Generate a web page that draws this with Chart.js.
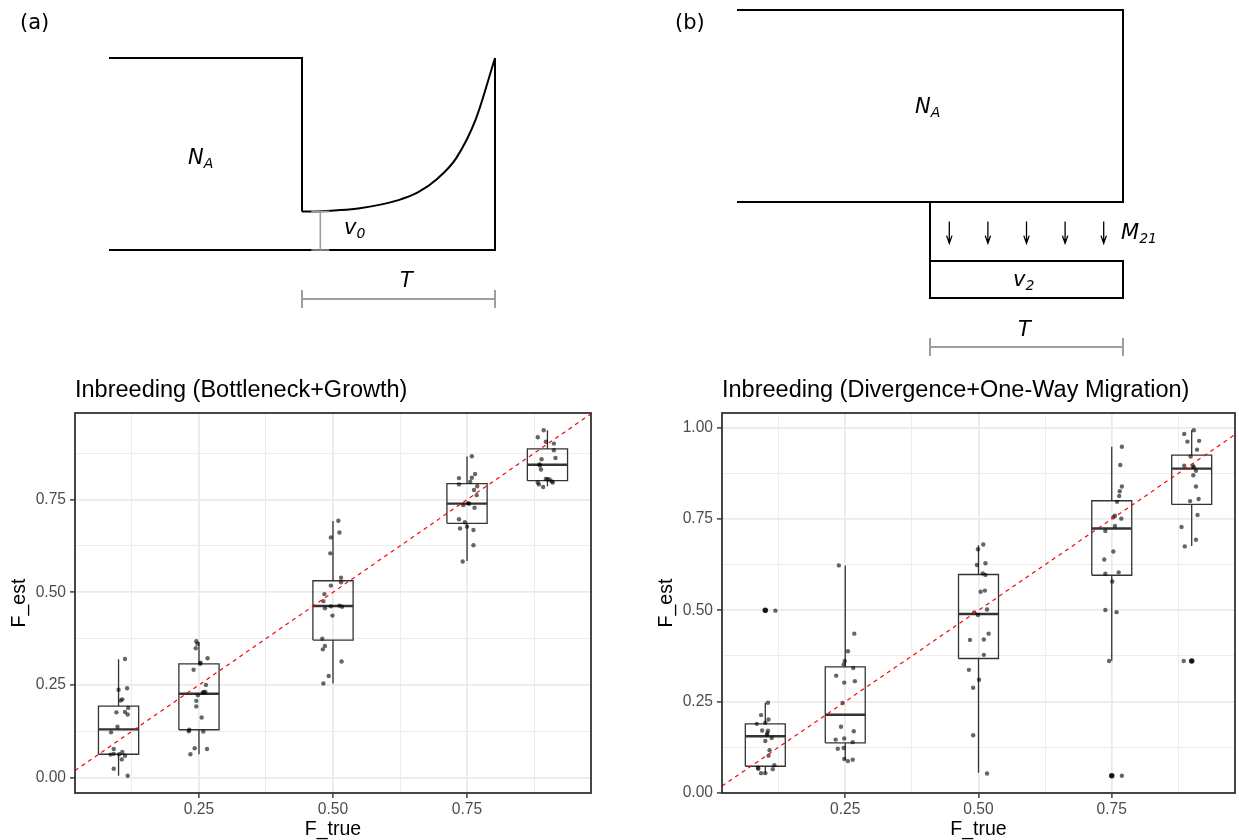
<!DOCTYPE html>
<html>
<head>
<meta charset="utf-8">
<title>Inbreeding estimates</title>
<script src="https://cdn.jsdelivr.net/npm/chart.js@4.4.1/dist/chart.umd.min.js"></script>
<style>
  html, body { margin: 0; padding: 0; background: #ffffff; }
  body { position: relative; width: 1239px; height: 840px; overflow: hidden; }
  canvas { position: absolute; }
  .lbl { position: absolute; font-family: "DejaVu Sans", sans-serif; font-size: 21px; line-height: 21px; color: #000; white-space: nowrap; }
  .lbl i, .lbl sub { font-style: oblique; }
  .lbl sub { font-size: 14px; line-height: 0; vertical-align: -4px; }
</style>
</head>
<body>
<canvas id="diagA" width="620" height="370" style="left:0;top:0"></canvas>
<canvas id="diagB" width="599" height="370" style="left:640px;top:0"></canvas>
<canvas id="boxA" width="620" height="470" style="left:0;top:370px"></canvas>
<canvas id="boxB" width="599" height="470" style="left:640px;top:370px"></canvas>

<div class="lbl" style="left:20px;top:11.7px">(a)</div>
<div class="lbl" style="left:188px;top:147.2px"><i>N</i><sub>A</sub></div>
<div class="lbl" style="left:344px;top:217.2px"><i>v</i><sub>0</sub></div>
<div class="lbl" style="left:400px;top:270.2px"><i>T</i></div>
<div class="lbl" style="left:675px;top:11.5px">(b)</div>
<div class="lbl" style="left:915px;top:95.5px"><i>N</i><sub>A</sub></div>
<div class="lbl" style="left:1121px;top:222.2px"><i>M</i><sub>21</sub></div>
<div class="lbl" style="left:1013px;top:268.9px"><i>v</i><sub>2</sub></div>
<div class="lbl" style="left:1018px;top:318.9px"><i>T</i></div>

<script>
// ---------- boxplot data ----------
const fTrue = [0.1, 0.25, 0.5, 0.75, 0.9];
const yTickVals = [0, 0.25, 0.5, 0.75, 1];
const yTickLabels = ['0.00', '0.25', '0.50', '0.75', '1.00'];
const xTickVals = [0.25, 0.5, 0.75];
const xTickLabels = ['0.25', '0.50', '0.75'];
const minorVals = [0.125, 0.375, 0.625, 0.875];

// (a) Bottleneck+Growth
const bgLow  = [0.005, 0.063, 0.254, 0.584, 0.786];
const bgQ1   = [0.063, 0.129, 0.371, 0.686, 0.801];
const bgMed  = [0.130, 0.226, 0.463, 0.739, 0.844];
const bgQ3   = [0.193, 0.307, 0.531, 0.793, 0.887];
const bgHigh = [0.319, 0.366, 0.692, 0.866, 0.937];
const bgEst = [
  [0.320,0.237,0.241,0.211,0.208,0.188,0.176,0.177,0.170,0.137,0.122,0.077,0.069,0.062,0.064,0.063,0.059,0.049,0.024,0.005],
  [0.368,0.361,0.349,0.310,0.307,0.322,0.291,0.250,0.231,0.231,0.229,0.222,0.207,0.192,0.162,0.129,0.125,0.124,0.079,0.077,0.063],
  [0.693,0.661,0.648,0.605,0.539,0.527,0.518,0.495,0.476,0.457,0.462,0.464,0.461,0.437,0.375,0.355,0.346,0.313,0.274,0.254],
  [0.867,0.819,0.808,0.809,0.798,0.791,0.786,0.776,0.762,0.739,0.740,0.735,0.728,0.697,0.689,0.677,0.672,0.668,0.627,0.583],
  [0.937,0.918,0.906,0.901,0.883,0.862,0.859,0.845,0.842,0.831,0.806,0.805,0.804,0.799,0.796,0.796,0.791,0.784]
];
const bgJitter = [
  [0.012,0,0.016,0.007,0.004,0.018,-0.004,0.012,0.017,-0.002,-0.014,-0.009,0.007,-0.015,-0.009,0.001,0.012,0.006,-0.009,0.017],
  [-0.005,-0.003,-0.006,0.003,0.002,0.016,-0.010,0.013,0.009,0.012,0.007,-0.002,-0.005,-0.005,0.005,-0.018,-0.019,0.008,-0.008,0.015,-0.016],
  [0.010,0.012,-0.004,-0.005,0.015,0.015,-0.004,-0.016,-0.018,-0.015,-0.004,0.012,0.017,-0.001,-0.020,-0.015,-0.019,0.016,-0.008,-0.018],
  [0.009,0.015,-0.015,0.009,0.006,-0.015,0.019,0.013,0.018,0.004,0.002,-0.007,0.014,-0.015,-0.004,0,-0.013,0.012,0.012,-0.008],
  [-0.007,-0.018,-0.003,0.012,0.012,0.015,-0.011,-0.015,-0.014,-0.012,-0.003,0,0.004,0.008,0.010,-0.018,-0.016,-0.008]
];

// (b) Divergence+One-Way Migration
const dmLow  = [0.054, 0.090, 0.055, 0.362, 0.676];
const dmQ1   = [0.073, 0.137, 0.368, 0.596, 0.790];
const dmMed  = [0.155, 0.214, 0.490, 0.724, 0.888];
const dmQ3   = [0.189, 0.345, 0.598, 0.800, 0.925];
const dmHigh = [0.247, 0.623, 0.678, 0.948, 0.993];
const dmOutX = [0.1, 0.75, 0.9];
const dmOutY = [0.5, 0.047, 0.361];
const dmEst = [
  [0.500,0.499,0.247,0.213,0.201,0.189,0.192,0.171,0.170,0.164,0.159,0.150,0.142,0.117,0.102,0.076,0.065,0.069,0.066,0.054,0.054],
  [0.623,0.436,0.388,0.361,0.352,0.342,0.321,0.302,0.306,0.246,0.181,0.169,0.146,0.149,0.139,0.121,0.123,0.093,0.087,0.091],
  [0.680,0.667,0.629,0.624,0.601,0.597,0.551,0.554,0.502,0.494,0.487,0.436,0.419,0.420,0.378,0.337,0.310,0.288,0.158,0.053],
  [0.948,0.898,0.839,0.826,0.813,0.797,0.759,0.755,0.751,0.731,0.717,0.661,0.639,0.600,0.604,0.579,0.501,0.495,0.361,0.047,0.047],
  [0.993,0.983,0.964,0.962,0.940,0.921,0.896,0.896,0.892,0.882,0.870,0.839,0.805,0.799,0.761,0.728,0.693,0.675,0.361,0.361]
];
const dmJitter = [
  [0,0.019,0.005,-0.008,0.006,-0.016,0,-0.006,0.005,0.004,0.003,0.012,0,0.008,0.006,0.017,0.014,-0.014,-0.013,-0.008,0],
  [-0.012,0.017,0.005,-0.001,-0.003,0.015,-0.017,-0.002,0.018,-0.005,-0.008,0.016,-0.018,-0.002,0.014,-0.014,-0.003,-0.002,0.005,0.014],
  [0.009,-0.001,0.013,-0.003,0.008,0.013,0.004,0.012,0.016,-0.008,-0.001,0.019,-0.016,0.010,0.010,-0.018,0.001,-0.010,-0.010,0.016],
  [0.019,0.016,0.019,0.015,0.014,0.010,0.006,0.003,0.018,0.006,-0.012,0.003,-0.014,-0.012,0.013,0.001,-0.012,0.009,-0.005,0,0.019],
  [0.004,-0.014,0.014,-0.008,0.010,-0.002,-0.014,0.002,0.004,0.008,0.003,0.008,0.013,-0.003,0.011,-0.019,0.008,-0.013,-0.015,0]
];

// ---------- schematic data ----------
// (a) bottleneck then growth; time in units of T, size relative to N_A
const ancStart = -1;
const v0 = 0.2;
const growT = [0, 0.1, 0.2, 0.3, 0.4, 0.5, 0.6, 0.7, 0.8, 0.9, 1];
const growN = [0.2, 0.202, 0.208, 0.218, 0.235, 0.26, 0.3, 0.37, 0.48, 0.68, 1];
const v0MarkT = 0.095;
// (b) divergence with one-way migration
const v2Top = -0.307, v2Bottom = -0.5;
const migT = [0.1, 0.3, 0.5, 0.7, 0.9];
const migFrom = -0.102, migTo = -0.215;

const SANS = '"Liberation Sans", Arial, Helvetica, sans-serif';
const BOX_HALF = 0.0375;
Chart.defaults.font.family = SANS;

function padRange(lo, hi) {
  const d = (hi - lo) * 0.05;
  return [lo - d, hi + d];
}
function isMajor(v, majors) {
  return majors.some(m => Math.abs(m - v) < 1e-9);
}

function boxSegments(q1, q3, low, high) {
  const pts = [];
  fTrue.forEach((c, i) => {
    const l = c - BOX_HALF, r = c + BOX_HALF;
    pts.push({x: l, y: q1[i]}, {x: r, y: q1[i]}, {x: r, y: q3[i]}, {x: l, y: q3[i]}, {x: l, y: q1[i]}, {x: c, y: null});
    pts.push({x: c, y: q3[i]}, {x: c, y: high[i]}, {x: c, y: null});
    pts.push({x: c, y: q1[i]}, {x: c, y: low[i]}, {x: c, y: null});
  });
  return pts;
}
function medianSegments(med) {
  const pts = [];
  fTrue.forEach((c, i) => {
    pts.push({x: c - BOX_HALF, y: med[i]}, {x: c + BOX_HALF, y: med[i]}, {x: c, y: null});
  });
  return pts;
}

function makeAxis(horiz, range, majors, labels, size, titleText, titlePad) {
  return {
    type: 'linear',
    position: horiz ? 'bottom' : 'left',
    bounds: 'data',
    min: range[0],
    max: range[1],
    afterBuildTicks: s => {
      s.ticks = majors.concat(minorVals)
        .filter(v => v >= range[0] && v <= range[1])
        .sort((a, b) => a - b)
        .map(v => ({value: v}));
    },
    afterFit: s => { if (horiz) s.height = size; else s.width = size; },
    grid: {
      color: '#EBEBEB',
      lineWidth: c => (c.tick && isMajor(c.tick.value, majors)) ? 1.8 : 0.9,
      tickColor: c => (c.tick && isMajor(c.tick.value, majors)) ? '#333333' : 'rgba(0,0,0,0)',
      tickWidth: 1.4,
      tickLength: 5,
      drawTicks: true
    },
    border: {display: false},
    ticks: {
      autoSkip: false,
      maxRotation: 0,
      minRotation: 0,
      padding: horiz ? 2 : 4,
      color: '#4D4D4D',
      font: {family: SANS, size: 15.6, lineHeight: 1.2},
      callback: v => {
        const i = majors.findIndex(m => Math.abs(m - v) < 1e-9);
        return i >= 0 ? labels[i] : '';
      }
    },
    title: {
      display: true,
      text: titleText,
      color: '#000000',
      font: {family: SANS, size: 19.5, lineHeight: 1},
      padding: horiz ? {top: 0, bottom: 1} : {top: titlePad, bottom: 0}
    }
  };
}

const panelBorder = {
  id: 'panelBorder',
  afterDatasetsDraw(chart) {
    const {ctx, chartArea: a} = chart;
    ctx.save();
    ctx.strokeStyle = '#333333';
    ctx.lineWidth = 1.8;
    ctx.strokeRect(a.left, a.top, a.right - a.left, a.bottom - a.top);
    ctx.restore();
  }
};

function boxChart(id, title, p, yAxisW, rightPad, yTitlePad) {
  const all = [].concat(...p.est, p.low, p.high, p.outY || []);
  const yr = padRange(Math.min(...all), Math.max(...all));
  const xr = padRange(fTrue[0] - BOX_HALF, fTrue[fTrue.length - 1] + BOX_HALF);

  const pts = [];
  fTrue.forEach((c, g) => p.est[g].forEach((v, k) => pts.push({x: c + p.dx[g][k], y: v})));

  const datasets = [
    {data: [{x: xr[0], y: xr[0]}, {x: xr[1], y: xr[1]}], showLine: true,
     borderColor: '#FF0000', borderWidth: 1.2, borderDash: [4, 4], pointRadius: 0},
    {data: pts, pointRadius: 2.2, backgroundColor: 'rgba(0,0,0,0.6)', borderWidth: 0}
  ];
  if (p.outX) {
    datasets.push({data: p.outX.map((x, i) => ({x: x, y: p.outY[i]})),
      pointRadius: 2.8, backgroundColor: '#333333', borderWidth: 0});
  }
  datasets.push({data: medianSegments(p.med), showLine: true, borderColor: '#333333',
    borderWidth: 2.4, pointRadius: 0, spanGaps: false});
  datasets.push({data: boxSegments(p.q1, p.q3, p.low, p.high), showLine: true, borderColor: '#333333',
    borderWidth: 1.3, pointRadius: 0, spanGaps: false, borderJoinStyle: 'miter'});

  new Chart(document.getElementById(id), {
    type: 'scatter',
    data: {datasets: datasets},
    options: {
      responsive: false,
      animation: false,
      events: [],
      layout: {padding: {left: 0, right: rightPad, top: 0, bottom: 0}},
      scales: {
        x: makeAxis(true, xr, xTickVals, xTickLabels, 47, 'F_true'),
        y: makeAxis(false, yr, yTickVals, yTickLabels, yAxisW, 'F_est', yTitlePad)
      },
      plugins: {
        legend: {display: false},
        tooltip: {enabled: false},
        title: {
          display: true, text: title, align: 'start', fullSize: false, color: '#000000',
          font: {family: SANS, size: 23.5, weight: 'normal', lineHeight: 1.2},
          padding: {top: 6.8, bottom: 8.0}
        }
      }
    },
    plugins: [panelBorder]
  });
}

boxChart('boxA', 'Inbreeding (Bottleneck+Growth)',
  {low: bgLow, q1: bgQ1, med: bgMed, q3: bgQ3, high: bgHigh, est: bgEst, dx: bgJitter},
  75, 29, 10.1);
boxChart('boxB', 'Inbreeding (Divergence+One-Way Migration)',
  {low: dmLow, q1: dmQ1, med: dmMed, q3: dmQ3, high: dmHigh, est: dmEst, dx: dmJitter, outX: dmOutX, outY: dmOutY},
  82, 1, 17.1);

// ---------- schematics ----------
const UX = 193, UY = 192;   // pixels per unit of time / size
const GRAY = '#9E9E9E';

function line(points, color, width, extra) {
  return Object.assign({data: points, showLine: true, borderColor: color, borderWidth: width,
    pointRadius: 0, spanGaps: false, borderJoinStyle: 'miter', borderCapStyle: 'butt'}, extra || {});
}
function tBar(y) {
  return [{x: 0, y: y}, {x: 1, y: y}, {x: 1, y: null},
          {x: 0, y: y - 0.047}, {x: 0, y: y + 0.047}, {x: 0, y: null},
          {x: 1, y: y - 0.047}, {x: 1, y: y + 0.047}];
}
function diagram(id, w, h, ox, oy, datasets) {
  new Chart(document.getElementById(id), {
    type: 'scatter',
    data: {datasets: datasets},
    options: {
      responsive: false,
      animation: false,
      events: [],
      layout: {padding: 0},
      scales: {
        x: {type: 'linear', display: false, min: -ox / UX, max: (w - ox) / UX},
        y: {type: 'linear', display: false, min: -(h - oy) / UY, max: oy / UY}
      },
      plugins: {legend: {display: false}, tooltip: {enabled: false}}
    }
  });
}

const v0Mark = [
  {x: v0MarkT, y: 0}, {x: v0MarkT, y: v0}, {x: v0MarkT, y: null},
  {x: v0MarkT - 0.047, y: 0}, {x: v0MarkT + 0.047, y: 0}, {x: v0MarkT, y: null},
  {x: v0MarkT - 0.047, y: v0}, {x: v0MarkT + 0.047, y: v0}
];
diagram('diagA', 620, 370, 302, 250, [
  line(v0Mark, GRAY, 1.6),
  line(tBar(-0.255), GRAY, 2),
  line([{x: ancStart, y: 1}, {x: 0, y: 1}, {x: 0, y: v0}], '#000000', 2),
  line(growT.map((t, i) => ({x: t, y: growN[i]})), '#000000', 2, {cubicInterpolationMode: 'monotone'}),
  line([{x: 1, y: 1}, {x: 1, y: 0}, {x: ancStart, y: 0}], '#000000', 2)
]);

const arrows = [];
migT.forEach(t => {
  arrows.push({x: t, y: migFrom}, {x: t, y: migTo}, {x: t, y: null});
  arrows.push({x: t - 0.014, y: migTo + 0.04}, {x: t, y: migTo}, {x: t + 0.014, y: migTo + 0.04}, {x: t, y: null});
});
diagram('diagB', 599, 370, 290, 202, [
  line(tBar(-0.755), GRAY, 2),
  line([{x: ancStart, y: 1}, {x: 1, y: 1}, {x: 1, y: 0}, {x: ancStart, y: 0}], '#000000', 2),
  line([{x: 0, y: 0}, {x: 0, y: v2Top}], '#000000', 2),
  line([{x: 0, y: v2Top}, {x: 1, y: v2Top}, {x: 1, y: v2Bottom}, {x: 0, y: v2Bottom}, {x: 0, y: v2Top}], '#000000', 2),
  line(arrows, '#000000', 1.3)
]);
</script>
</body>
</html>
